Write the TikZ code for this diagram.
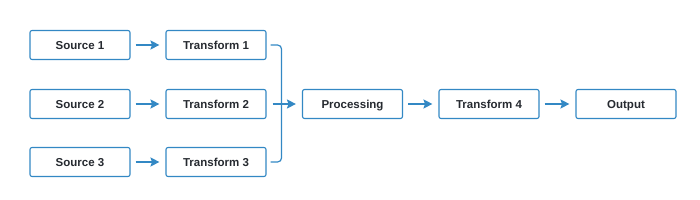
\documentclass[tikz,border=0pt]{standalone}
\usepackage{fontspec}
\setmainfont{Liberation Sans}
\usepackage{tikz}
\usetikzlibrary{arrows.meta, positioning}
\definecolor{flowblue}{HTML}{3388C4}
\definecolor{flowtext}{HTML}{262A30}
\tikzset{
  stagebox/.style={draw=flowblue,line width=1.1pt,rounded corners=2pt,fill=white,
    minimum width=100pt,minimum height=29pt,inner sep=0pt,
    text height=8.2pt,text depth=0pt,
    font=\fontsize{11.5}{13}\selectfont\bfseries,text=flowtext},
  flowedge/.style={-{Stealth[length=9pt,width=9pt,inset=1.5pt]},line width=1.2pt,flowblue,
    shorten <=5pt,shorten >=6pt},
  joinedge/.style={line width=1.2pt,flowblue,rounded corners=4pt},
}

\begin{document}
\begin{tikzpicture}[x=1pt,y=1pt]
  \useasboundingbox (0,0) rectangle (700,200);
  \node[stagebox] (src1) at (80,155) {Source 1};
  \node[stagebox] (src2) at (80,96) {Source 2};
  \node[stagebox] (src3) at (80,38) {Source 3};
  \node[stagebox] (tf1) at (216,155) {Transform 1};
  \node[stagebox] (tf2) at (216,96) {Transform 2};
  \node[stagebox] (tf3) at (216,38) {Transform 3};
  \node[stagebox] (proc) at (352.5,96) {Processing};
  \node[stagebox] (tf4) at (489,96) {Transform 4};
  \node[stagebox] (out) at (626,96) {Output};
  \draw[flowedge] (src1) -- (tf1);
  \draw[flowedge] (src2) -- (tf2);
  \draw[flowedge] (src3) -- (tf3);
  \draw[joinedge] ([xshift=4pt]tf1.east) -| ([xshift=15pt]tf2.east)
    |- ([xshift=4pt]tf3.east);
  \draw[flowedge,shorten <=6pt] (tf2) -- (proc);
  \draw[flowedge] (proc) -- (tf4);
  \draw[flowedge] (tf4) -- (out);
\end{tikzpicture}
\end{document}
